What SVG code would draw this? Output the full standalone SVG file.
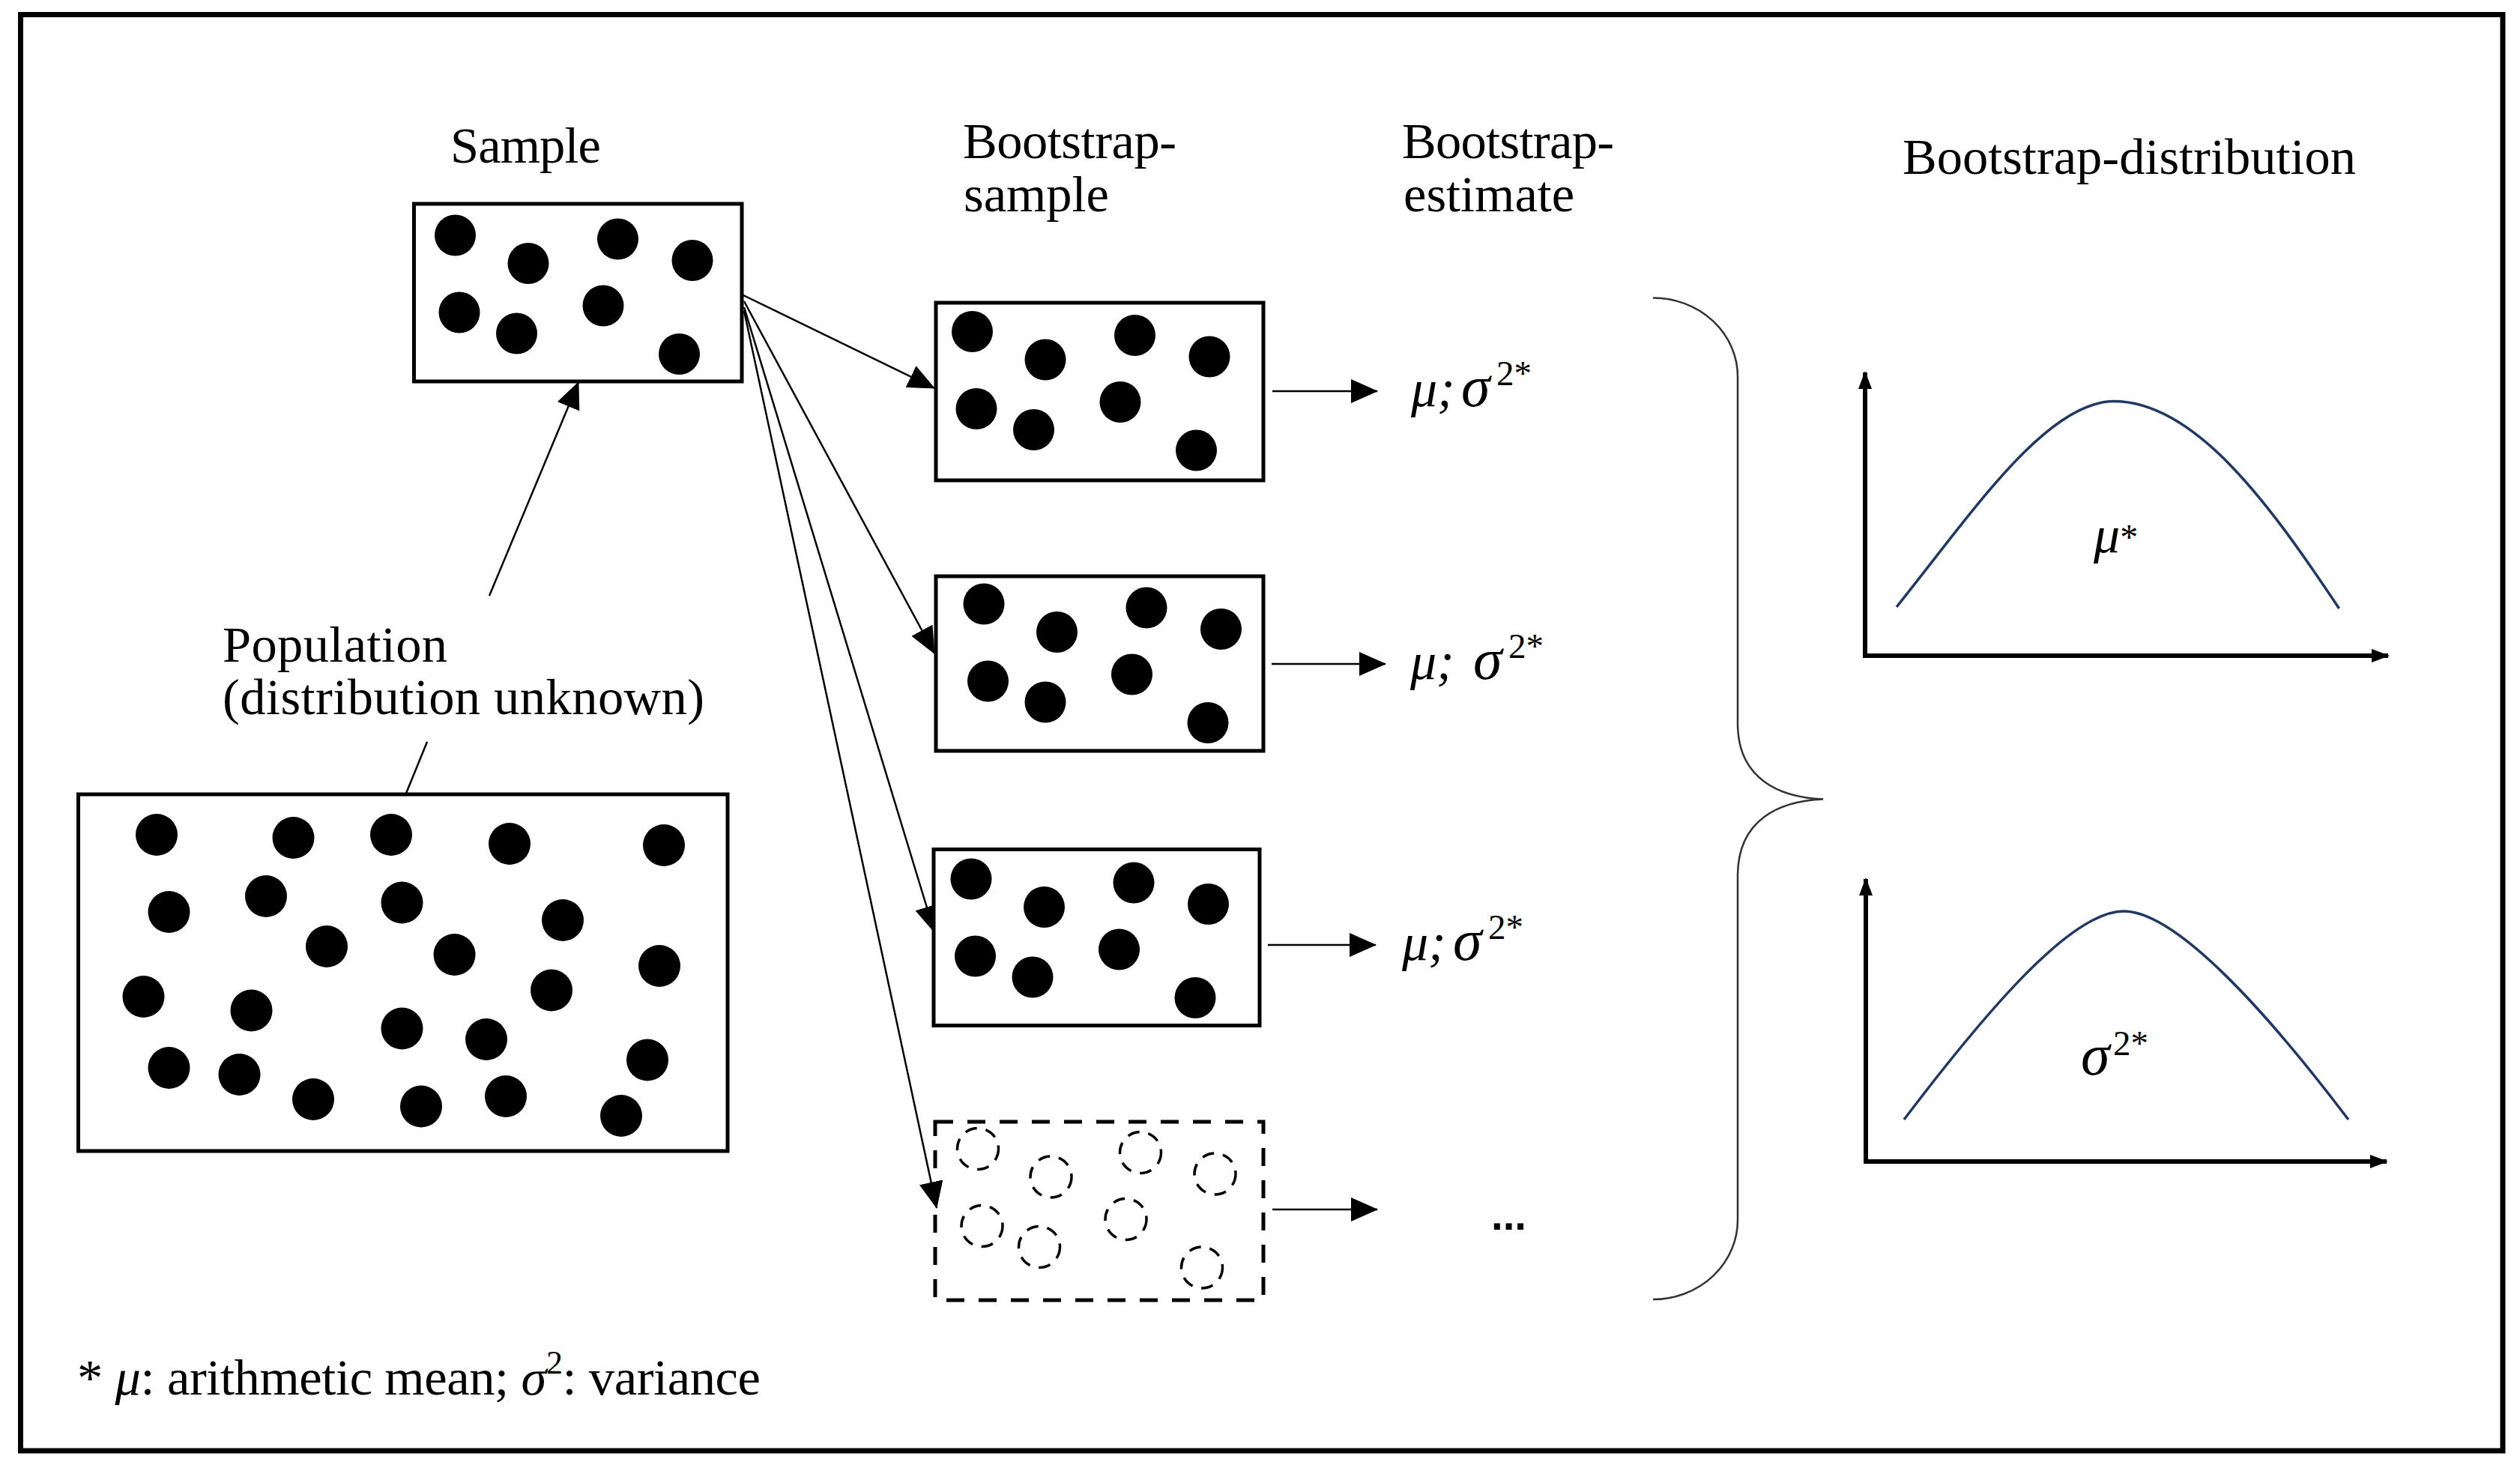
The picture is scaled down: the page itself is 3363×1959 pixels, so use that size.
<svg xmlns="http://www.w3.org/2000/svg" width="3363" height="1959" viewBox="0 0 3363 1959">
<style>
  .lbl { font-family: "Liberation Serif", "Times New Roman", serif; font-size: 68.5px; fill: #000; }
  .math { font-family: "Liberation Serif", "Times New Roman", serif; font-style: italic; font-size: 70px; fill: #000; }
  .sig { font-size: 78px; }
  .sup { font-style: normal; font-size: 47px; }
  .box { fill: #fff; stroke: #000; stroke-width: 5; }
  .dbox { fill: none; stroke: #000; stroke-width: 5; stroke-dasharray: 24 19; }
  .conn { stroke: #000; stroke-width: 2.5; fill: none; }
  .axis { stroke: #000; stroke-width: 6; fill: none; }
  .curve { stroke: #1f3864; stroke-width: 3.5; fill: none; }
  .brace { stroke: #333; stroke-width: 2.5; fill: none; }
  .dot { fill: #000; }
  .ddot { fill: none; stroke: #000; stroke-width: 3.5; stroke-dasharray: 16 12; }
</style>
<defs>
  <marker id="arr" markerUnits="userSpaceOnUse" markerWidth="36" markerHeight="32" refX="35" refY="16" orient="auto">
    <path d="M0,0 L36,16 L0,32 z" fill="#000"/>
  </marker>
  <marker id="arrS" markerUnits="userSpaceOnUse" markerWidth="24" markerHeight="18" refX="22" refY="9" orient="auto">
    <path d="M0,0 L24,9 L0,18 z" fill="#000"/>
  </marker>
  <g id="pat">
    <circle cx="0" cy="0" r="27.5"/>
    <circle cx="97.5" cy="37.5" r="27.5"/>
    <circle cx="217" cy="5" r="27.5"/>
    <circle cx="316.5" cy="33.5" r="27.5"/>
    <circle cx="5.5" cy="103" r="27.5"/>
    <circle cx="82" cy="131" r="27.5"/>
    <circle cx="197.5" cy="94" r="27.5"/>
    <circle cx="299" cy="158.5" r="27.5"/>
  </g>
</defs>

<rect x="0" y="0" width="3363" height="1959" fill="#fff"/>
<rect x="27.5" y="19.5" width="3312.5" height="1916.5" fill="none" stroke="#000" stroke-width="7"/>

<!-- headings -->
<g id="headings">
  <text class="lbl" x="601" y="217" textLength="201">Sample</text>
  <text class="lbl" x="1285" y="211" textLength="285">Bootstrap-</text>
  <text class="lbl" x="1286" y="282">sample</text>
  <text class="lbl" x="1871" y="211" textLength="283">Bootstrap-</text>
  <text class="lbl" x="1873" y="282">estimate</text>
  <text class="lbl" x="2539" y="232" textLength="605">Bootstrap-distribution</text>
</g>

<!-- connectors -->
<g id="connectors">
  <line class="conn" x1="653" y1="795" x2="772" y2="510" marker-end="url(#arr)"/>
  <line class="conn" x1="570" y1="990" x2="541" y2="1061"/>
  <line class="conn" x1="992" y1="394" x2="1247" y2="518" marker-end="url(#arr)"/>
  <line class="conn" x1="993" y1="402" x2="1247" y2="872" marker-end="url(#arr)"/>
  <line class="conn" x1="993" y1="410" x2="1247" y2="1244" marker-end="url(#arr)"/>
  <line class="conn" x1="993" y1="415" x2="1250" y2="1612" marker-end="url(#arr)"/>
  <line class="conn" x1="1698" y1="522" x2="1838" y2="522" stroke-width="3" marker-end="url(#arr)"/>
  <line class="conn" x1="1697" y1="886" x2="1849" y2="886" stroke-width="3" marker-end="url(#arr)"/>
  <line class="conn" x1="1692" y1="1261" x2="1836" y2="1261" stroke-width="3" marker-end="url(#arr)"/>
  <line class="conn" x1="1698" y1="1614" x2="1838" y2="1614" stroke-width="3" marker-end="url(#arr)"/>
</g>

<!-- population -->
<g id="node-population">
  <text class="lbl" x="297" y="883" textLength="300">Population</text>
  <text class="lbl" x="297" y="953" textLength="643">(distribution unknown)</text>
  <rect class="box" x="104.5" y="1060" width="866.5" height="476"/>
  <g class="dot">
    <circle cx="209" cy="1114" r="28"/>
    <circle cx="391.5" cy="1118" r="28"/>
    <circle cx="522" cy="1114" r="28"/>
    <circle cx="680" cy="1126" r="28"/>
    <circle cx="886" cy="1128" r="28"/>
    <circle cx="225.5" cy="1217" r="28"/>
    <circle cx="355" cy="1196" r="28"/>
    <circle cx="536.5" cy="1204.5" r="28"/>
    <circle cx="751" cy="1228" r="28"/>
    <circle cx="436" cy="1263" r="28"/>
    <circle cx="606.5" cy="1274" r="28"/>
    <circle cx="880" cy="1289" r="28"/>
    <circle cx="191.5" cy="1330" r="28"/>
    <circle cx="335.5" cy="1348.5" r="28"/>
    <circle cx="736" cy="1321.5" r="28"/>
    <circle cx="536.5" cy="1372.5" r="28"/>
    <circle cx="649" cy="1387" r="28"/>
    <circle cx="225.5" cy="1425" r="28"/>
    <circle cx="319.5" cy="1434" r="28"/>
    <circle cx="418" cy="1467" r="28"/>
    <circle cx="562" cy="1476.5" r="28"/>
    <circle cx="675" cy="1463" r="28"/>
    <circle cx="864" cy="1414.5" r="28"/>
    <circle cx="829" cy="1489" r="28"/>
  </g>
</g>

<!-- sample -->
<g id="node-sample">
  <rect class="box" x="552.5" y="272" width="437.5" height="237"/>
  <use href="#pat" class="dot" transform="translate(607.5,314)"/>
</g>

<!-- bootstrap samples -->
<g id="node-bs1">
  <rect class="box" x="1249" y="404" width="437" height="237"/>
  <use href="#pat" class="dot" transform="translate(1297.5,442.5)"/>
</g>
<g id="node-bs2">
  <rect class="box" x="1249" y="769" width="437" height="233"/>
  <use href="#pat" class="dot" transform="translate(1313,806)"/>
</g>
<g id="node-bs3">
  <rect class="box" x="1246" y="1133.5" width="435" height="235"/>
  <use href="#pat" class="dot" transform="translate(1296,1173)"/>
</g>
<g id="node-bs4">
  <rect class="dbox" x="1248" y="1497" width="438" height="238"/>
  <use href="#pat" class="ddot" transform="translate(1305,1533)"/>
</g>

<!-- estimates -->
<g id="node-est1">
  <text class="math" x="1883" y="542">μ;</text>
  <text class="math sig" x="1950" y="542">σ</text>
  <text class="math sup" x="1997" y="514">2*</text>
</g>
<g id="node-est2">
  <text class="math" x="1882" y="906">μ;</text>
  <text class="math sig" x="1966" y="906">σ</text>
  <text class="math sup" x="2013" y="878">2*</text>
</g>
<g id="node-est3">
  <text class="math" x="1871" y="1281">μ;</text>
  <text class="math sig" x="1939" y="1281">σ</text>
  <text class="math sup" x="1986" y="1253">2*</text>
</g>
<g id="node-est4">
  <text x="1990" y="1641" font-family="Liberation Sans, Arial, sans-serif" font-weight="bold" font-size="58" textLength="47" lengthAdjust="spacingAndGlyphs">...</text>
</g>

<!-- brace -->
<g id="node-brace">
  <path class="brace" d="M2206,397.5 A113,105 0 0 1 2319,503 L2319,967 C2320,1040 2375,1064 2433,1066.5 C2375,1069 2320,1093 2319,1167 L2319,1627 A113,106 0 0 1 2206,1734"/>
</g>

<!-- distribution of mean -->
<g id="node-dist-mean">
  <line class="axis" x1="2489" y1="878" x2="2489" y2="497" marker-end="url(#arrS)"/>
  <line class="axis" x1="2486" y1="875" x2="3187" y2="875" marker-end="url(#arrS)"/>
  <path class="curve" d="M2531,810 C2631,685 2731,535.6 2821,535.6 C2931,535.6 3031.6,677 3121.6,812"/>
  <text class="math" x="2794" y="737">μ<tspan font-style="normal" font-size="48" dy="-4">*</tspan></text>
</g>

<!-- distribution of variance -->
<g id="node-dist-var">
  <line class="axis" x1="2490" y1="1553" x2="2490" y2="1173" marker-end="url(#arrS)"/>
  <line class="axis" x1="2487" y1="1550" x2="3185" y2="1550" marker-end="url(#arrS)"/>
  <path class="curve" d="M2541,1494 C2651,1349 2764,1216 2834,1216 C2904,1216 3024,1349 3134,1494"/>
  <text class="math sig" x="2777" y="1434">σ</text>
  <text class="math sup" x="2820" y="1408">2*</text>
</g>

<!-- footnote -->
<g id="footnote">
  <text class="lbl" x="103" y="1861" textLength="912">* <tspan font-style="italic">μ</tspan>: arithmetic mean; <tspan font-style="italic">σ</tspan><tspan font-size="44" dy="-28">2</tspan><tspan dy="28">: variance</tspan></text>
</g>
</svg>
